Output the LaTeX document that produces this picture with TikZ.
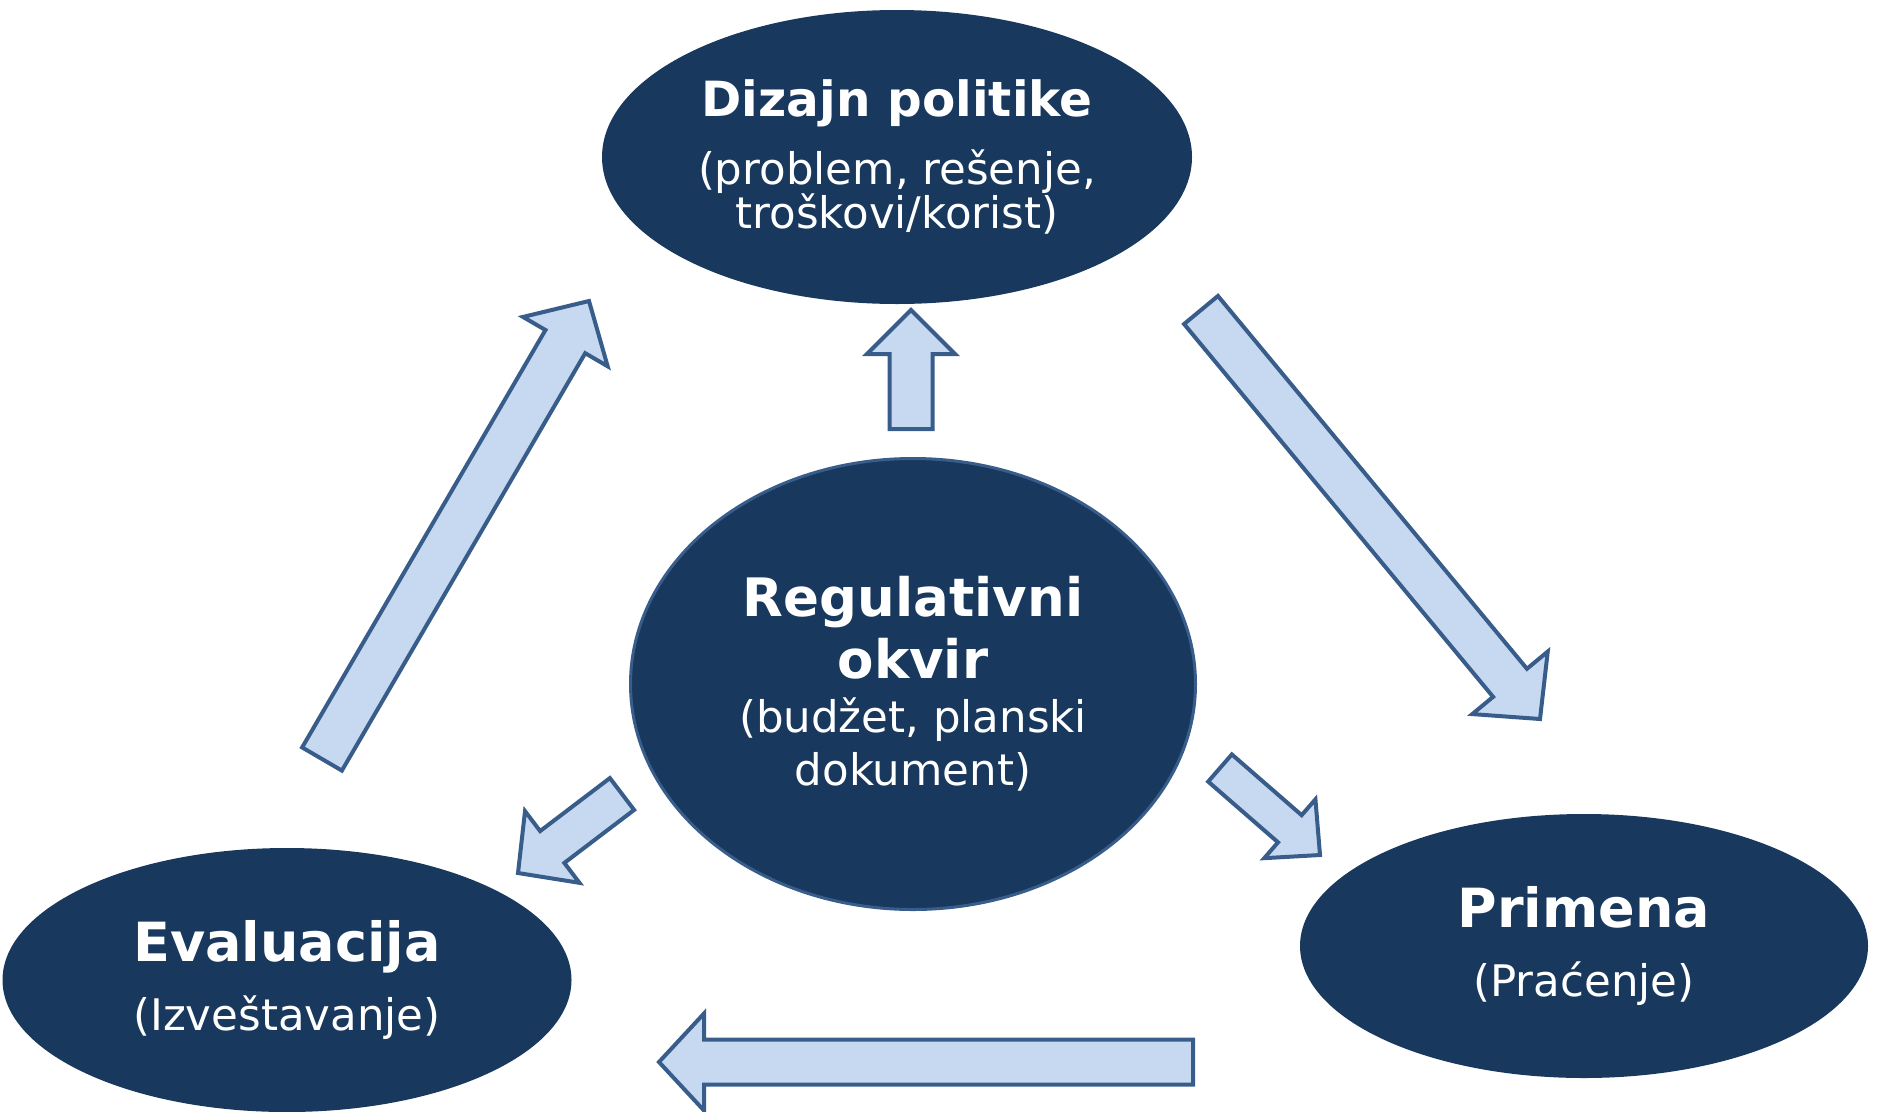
\documentclass[tikz,border=0pt]{standalone}
\usepackage{fontspec}
\setmainfont{DejaVu Sans}
\usetikzlibrary{shapes.geometric,calc}
\definecolor{c0}{RGB}{24,56,94}
\definecolor{c1}{RGB}{56,93,138}
\definecolor{c2}{RGB}{198,217,241}
\tikzset{%
  stage/.style 2 args={ellipse,fill=c0,text=white,inner sep=0pt,align=center,
    minimum width=#1,minimum height=#2,font=\fontsize{43.5}{44}\selectfont},
  hub/.style={draw=c1,line width=3pt},
  block/.style={fill=c2,draw=c1,line width=4pt}
}
\NewDocumentCommand\stagetitle{O{54}m}{{\fontsize{#1}{54}\selectfont\bfseries #2}}
% block arrow from tail #4 to tip #5: shaft, head half widths, head length
\NewDocumentCommand\blockarrow{O{22pt}O{49pt}O{47pt}mm}{%
  \coordinate (h) at ($(#5)!#3!(#4)$);
  \filldraw[block] ($(#4)!#1!90:(#5)$) -- ($(h)!#1!90:(#5)$) --
    ($(h)!#2!90:(#5)$) -- (#5) -- ($(h)!#2!-90:(#5)$) --
    ($(h)!#1!-90:(#5)$) -- ($(#4)!#1!-90:(#5)$) -- cycle;
}

\begin{document}
\begin{tikzpicture}[x=1pt,y=-1pt]
  \useasboundingbox (0,0) rectangle (1878,1111);
  %
  \node[stage={590pt}{294pt}] (dizajn) at (897,157)
    {\stagetitle[48.5]{Dizajn politike}\\[22pt](problem, rešenje,\\troškovi/korist)};
  \node[stage={565pt}{451pt},hub] (okvir) at (913,684)
    {\stagetitle[53]{Regulativni}\\[9pt]\stagetitle[53]{okvir}\\[10pt](budžet, planski\\[9pt]dokument)};
  \node[stage={568pt}{264pt}] (primena) at (1584,946)
    {\stagetitle{Primena}\\[25pt](Praćenje)};
  \node[stage={569pt}{264pt}] (evaluacija) at (287,980)
    {\stagetitle{Evaluacija}\\[22pt](Izveštavanje)};
  %
  \coordinate (a1) at (911,429);   \coordinate (a2) at (911,310);
  \coordinate (b1) at (1201,310);  \coordinate (b2) at (1540,719);
  \coordinate (c1) at (1193,1062); \coordinate (c2) at (659,1062);
  \coordinate (d1) at (322,759);   \coordinate (d2) at (589,301);
  \coordinate (e1) at (1220,768);  \coordinate (e2) at (1320,855);
  \coordinate (f1) at (622,794);   \coordinate (f2) at (518,873);
  %%% Arrows
  \blockarrow[21.5pt][44pt][44pt]{a1}{a2}
  \blockarrow{b1}{b2}
  \blockarrow[22.5pt][48.5pt][45pt]{c1}{c2}
  \blockarrow[23pt][49pt][47pt]{d1}{d2}
  \blockarrow[18pt][39pt][40pt]{e1}{e2}
  \blockarrow[20pt][45pt][43pt]{f1}{f2}
  %%
\end{tikzpicture}
\end{document}
